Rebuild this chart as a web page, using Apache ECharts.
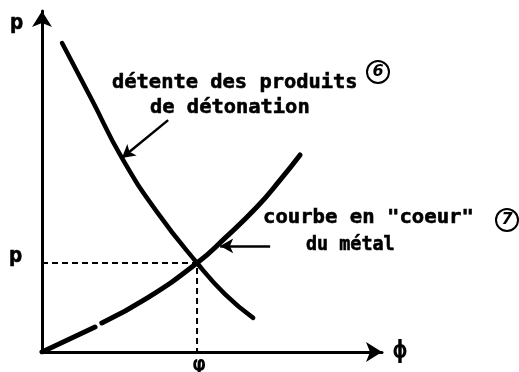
<!DOCTYPE html>
<html>
<head>
<meta charset="utf-8">
<script src="https://cdn.jsdelivr.net/npm/echarts@6/dist/echarts.min.js"></script>
<style>
  html, body { margin: 0; padding: 0; background: #fff; }
  #chart { width: 519px; height: 372px; }
</style>
</head>
<body>
<div id="chart"></div>
<script>
// Expansion isentrope of the detonation products: [phi, p]
const expansionCurve = [
  [0.59, 9.06], [1.47, 7.39], [2.35, 5.69], [3.38, 4.11],
  [4.56, 2.61], [5.38, 1.70], [6.21, 1.00]
];
// Metal "core" curve, drawn in two pieces with a short break near the origin
const metalCurveLow = [[0.00, 0.00], [1.56, 0.73]];
const metalCurveHigh = [
  [1.76, 0.85], [3.09, 1.58], [4.56, 2.61], [5.38, 3.34],
  [6.32, 4.25], [7.00, 5.04], [7.59, 5.78]
];
// Operating point (intersection of the two curves)
const phi0 = 4.56;
const p0 = 2.61;
// Pointer arrows: [tail, tip]
const arrowExpansion = [[3.71, 6.80], [2.35, 5.69]];
const arrowMetal = [[6.71, 3.11], [5.24, 3.11]];

const FONT = '"DejaVu Sans Mono", monospace';
const INK = '#000';

const chart = echarts.init(document.getElementById('chart'), null, { renderer: 'canvas' });

const axisCommon = {
  type: 'value', min: 0, max: 10,
  splitLine: { show: false }, axisTick: { show: false }, axisLabel: { show: false },
  axisLine: {
    show: true, onZero: false,
    symbol: ['none', 'arrow'], symbolSize: [15, 16], symbolOffset: [0, 0],
    lineStyle: { color: INK, width: 3 }
  }
};

const curveStyle = { color: INK, width: 5, cap: 'round', join: 'round' };

function label(text, x, y, size, sx) {
  return {
    type: 'text', x: x, y: y, scaleX: sx || 1,
    style: { text: text, fill: INK, stroke: INK, lineWidth: 0.6,
             font: 'bold ' + size + 'px ' + FONT }
  };
}
function centered(text, x, y, size, font) {
  return {
    type: 'text', x: x, y: y,
    style: { text: text, fill: INK, font: 'bold ' + size + 'px ' + (font || FONT),
             align: 'center', verticalAlign: 'middle' }
  };
}
function circledNumber(n, cx, cy) {
  return [
    { type: 'circle', shape: { cx: cx, cy: cy, r: 11 },
      style: { fill: 'none', stroke: INK, lineWidth: 2 } },
    { type: 'text', x: cx, y: cy,
      style: { text: n, fill: INK, font: 'italic bold 16px "DejaVu Sans"',
               align: 'center', verticalAlign: 'middle' } }
  ];
}

chart.setOption({
  animation: false,
  backgroundColor: '#fff',
  grid: { left: 42, right: 137, top: 11, bottom: 20 },
  xAxis: axisCommon,
  yAxis: axisCommon,
  series: [
    {
      type: 'line', data: expansionCurve, smooth: 0.5, showSymbol: false,
      lineStyle: Object.assign({}, curveStyle, { width: 4.5 }), z: 3,
      markLine: {
        silent: true, symbol: ['none', 'arrow'], symbolSize: [11, 13],
        lineStyle: { color: INK, width: 2.5, type: 'solid' }, label: { show: false },
        data: [
          [{ coord: arrowExpansion[0] }, { coord: arrowExpansion[1] }],
          [{ coord: arrowMetal[0] }, { coord: arrowMetal[1] }]
        ]
      }
    },
    {
      type: 'line', data: metalCurveLow, showSymbol: false,
      lineStyle: curveStyle, z: 3
    },
    {
      type: 'line', data: metalCurveHigh, smooth: 0.5, showSymbol: false,
      lineStyle: curveStyle, z: 3
    },
    {
      // projections of the operating point onto both axes
      type: 'line', showSymbol: false, z: 2,
      data: [[0, p0], [phi0, p0], [phi0, 0]],
      lineStyle: { color: INK, width: 2, type: [6, 4] }
    }
  ],
  graphic: [
    label('p', 10, 12, 22),
    label('p', 9, 245, 22),
    centered('ϕ', 400, 352, 24),
    centered('φ', 199, 365, 22),
    label('détente des produits', 112, 73, 20, 1.02),
    label('de détonation', 150, 98, 20, 1.02),
    label('courbe en "coeur"', 263, 208, 20, 1.03),
    label('du métal', 306, 235, 20, 0.92)
  ].concat(circledNumber('6', 378, 72), circledNumber('7', 507, 220))
});
</script>
</body>
</html>
